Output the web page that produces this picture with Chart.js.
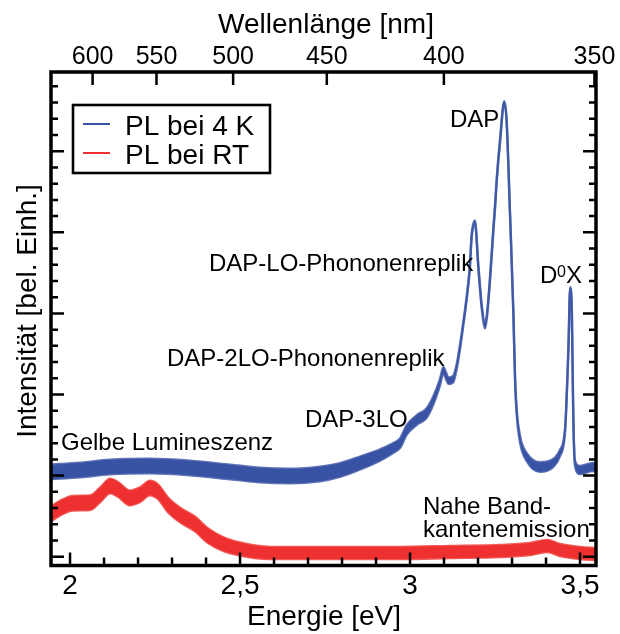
<!DOCTYPE html>
<html>
<head>
<meta charset="utf-8">
<script src="https://cdn.jsdelivr.net/npm/chart.js@4/dist/chart.umd.min.js"></script>
<style>
  html, body { margin: 0; padding: 0; background: #fff; }
  #wrap { width: 620px; height: 634px; }
</style>
</head>
<body>
<div id="wrap"><canvas id="c" width="620" height="634"></canvas></div>
<script>
// Photoluminescence spectra (arbitrary intensity units)
const seriesLabels = ['PL bei 4 K', 'PL bei RT'];

// 4 K spectrum: photon energy [eV], mean intensity, half-width of the noise band
const energy4K = [1.944, 2.029, 2.118, 2.235, 2.353, 2.471, 2.559, 2.647, 2.735, 2.794,
  2.853, 2.912, 2.956, 2.971, 2.990, 3.020, 3.049, 3.069, 3.088, 3.098,
  3.106, 3.113, 3.127, 3.137, 3.147, 3.157, 3.167, 3.176, 3.181, 3.191, 3.201,
  3.211, 3.221, 3.227, 3.235, 3.245, 3.250, 3.255, 3.265, 3.277, 3.284,
  3.294, 3.304, 3.309, 3.314, 3.324, 3.343, 3.382, 3.421, 3.441, 3.456,
  3.466, 3.471, 3.476, 3.480, 3.485, 3.500, 3.538, 3.547];
const intensity4K = [1.045, 1.069, 1.106, 1.118, 1.094, 1.045, 1.007, 0.995, 1.020, 1.069,
  1.155, 1.254, 1.353, 1.402, 1.562, 1.686, 1.772, 1.932, 2.150, 2.300,
  2.230, 2.170, 2.190, 2.339, 2.586, 2.882, 3.203, 3.573, 3.943, 4.127, 3.573,
  3.079, 2.845, 3.005, 3.412, 4.029, 4.312, 4.645, 5.138, 5.607, 5.385,
  4.238, 3.005, 2.179, 1.772, 1.439, 1.230, 1.106, 1.155, 1.279, 1.562,
  2.586, 3.314, 3.005, 1.772, 1.155, 1.069, 1.106, 1.094];
const noise4K = [0.09, 0.09, 0.09, 0.09, 0.09, 0.09, 0.09, 0.09, 0.09, 0.085,
  0.08, 0.07, 0.06, 0.06, 0.06, 0.06, 0.06, 0.05, 0.04, 0.04,
  0.04, 0.04, 0.04, 0.03, 0.03, 0.02, 0.02, 0.02, 0.02, 0.02, 0.02,
  0.02, 0.03, 0.02, 0.02, 0.02, 0.02, 0.02, 0.02, 0.01, 0.01,
  0.01, 0.01, 0.02, 0.03, 0.04, 0.05, 0.06, 0.05, 0.04, 0.02,
  0.01, 0.01, 0.01, 0.01, 0.03, 0.05, 0.05, 0.05];

// Room-temperature spectrum
const energyRT = [1.944, 1.971, 2.009, 2.059, 2.088, 2.118, 2.141, 2.176, 2.206, 2.235,
  2.259, 2.288, 2.324, 2.368, 2.403, 2.450, 2.500, 2.588, 2.706, 2.824,
  2.971, 3.118, 3.265, 3.353, 3.403, 3.441, 3.500, 3.547];
const intensityRT = [0.527, 0.600, 0.660, 0.665, 0.760, 0.872, 0.830, 0.725, 0.765, 0.847,
  0.800, 0.640, 0.514, 0.402, 0.268, 0.157, 0.095, 0.046, 0.046, 0.046,
  0.046, 0.058, 0.070, 0.095, 0.132, 0.083, 0.046, 0.033];
const noiseRT = [0.09, 0.09, 0.09, 0.09, 0.09, 0.09, 0.09, 0.09, 0.09, 0.09,
  0.09, 0.09, 0.09, 0.09, 0.09, 0.085, 0.08, 0.075, 0.075, 0.075,
  0.075, 0.075, 0.075, 0.075, 0.075, 0.075, 0.075, 0.075];

// Axis ticks
const energyTicks = [2, 2.5, 3, 3.5];
const energyTickLabels = ['2', '2,5', '3', '3,5'];
const wavelengthTicks = [600, 550, 500, 450, 400, 350];

const BLUE = '#3953a4';
const RED = '#ee3130';
const BLUE_EDGE = 'rgba(57, 83, 164, 0.8)';
const RED_EDGE = 'rgba(238, 49, 48, 0.8)';
const FONT = '"Liberation Sans", Arial, Helvetica, sans-serif';
const HC = 1239.84; // eV·nm

function band(energies, values, noise, sign) {
  return energies.map((e, i) => ({ x: e, y: values[i] + sign * noise[i] }));
}

function lineSet(label, data, fillColor, edgeColor, fill) {
  return {
    label, data, fill,
    borderColor: edgeColor, backgroundColor: fillColor,
    borderWidth: 2.4, pointRadius: 0,
    cubicInterpolationMode: 'monotone'
  };
}

// Frame with inward ticks, axis labels, titles, annotations and legend box
const framePlugin = {
  id: 'frame',
  afterDraw(chart) {
    const { ctx, chartArea: a, scales: { x, y } } = chart;
    ctx.save();
    ctx.strokeStyle = '#000';
    ctx.fillStyle = '#000';
    ctx.lineWidth = 2.5;
    ctx.beginPath();
    // left / right ticks every 0.2 units, long ones at whole units
    for (let i = 0; i * 0.2 <= y.max; i++) {
      const py = y.getPixelForValue(i * 0.2);
      if (py < a.top + 2) continue;
      const len = i % 5 === 0 ? 13 : 7;
      ctx.moveTo(a.left, py); ctx.lineTo(a.left + len, py);
      ctx.moveTo(a.right, py); ctx.lineTo(a.right - len, py);
    }
    // bottom ticks every 0.1 eV
    for (let i = 20; i <= 35; i++) {
      const px = x.getPixelForValue(i / 10);
      const len = i % 5 === 0 ? 13 : 8;
      ctx.moveTo(px, a.bottom); ctx.lineTo(px, a.bottom - len);
    }
    // top ticks at wavelengths
    wavelengthTicks.forEach(wl => {
      const px = x.getPixelForValue(HC / wl);
      ctx.moveTo(px, a.top); ctx.lineTo(px, a.top + 13);
    });
    ctx.stroke();

    ctx.lineWidth = 3.5;
    ctx.strokeRect(a.left, a.top, a.width, a.height);

    // tick labels
    ctx.textAlign = 'center';
    ctx.textBaseline = 'alphabetic';
    ctx.font = '28px ' + FONT;
    energyTicks.forEach((e, i) => {
      ctx.fillText(energyTickLabels[i], x.getPixelForValue(e), 594);
    });
    ctx.font = '25px ' + FONT;
    wavelengthTicks.forEach(wl => {
      ctx.fillText(String(wl), x.getPixelForValue(HC / wl), 64);
    });

    // axis titles
    ctx.font = '28px ' + FONT;
    ctx.fillText('Energie [eV]', 324, 625);
    ctx.fillText('Wellenlänge [nm]', 326, 33);
    ctx.save();
    ctx.translate(36, 311);
    ctx.rotate(-Math.PI / 2);
    ctx.fillText('Intensität [bel. Einh.]', 0, 0);
    ctx.restore();

    // peak annotations
    ctx.textAlign = 'left';
    ctx.font = '24px ' + FONT;
    ctx.fillText('DAP', 450, 127);
    ctx.fillText('DAP-LO-Phononenreplik', 209, 271);
    ctx.fillText('DAP-2LO-Phononenreplik', 167, 366);
    ctx.fillText('DAP-3LO', 305, 427);
    ctx.fillText('Gelbe Lumineszenz', 61, 450);
    ctx.fillText('Nahe Band-', 423, 514);
    ctx.fillText('kantenemission', 423, 537);
    ctx.fillText('D', 540, 283);
    ctx.fillText('X', 566, 283);
    ctx.font = '16px ' + FONT;
    ctx.fillText('0', 557, 277);

    // legend
    ctx.lineWidth = 2.6;
    ctx.strokeRect(73, 105, 197, 68);
    ctx.font = '28px ' + FONT;
    [BLUE, RED].forEach((col, i) => {
      const ly = 124 + i * 29;
      ctx.strokeStyle = col;
      ctx.lineWidth = 2;
      ctx.beginPath();
      ctx.moveTo(83, ly); ctx.lineTo(110, ly);
      ctx.stroke();
      ctx.fillText(seriesLabels[i], 125, 135 + i * 28.5);
    });
    ctx.restore();
  }
};

new Chart(document.getElementById('c'), {
  type: 'line',
  data: {
    datasets: [
      lineSet(seriesLabels[0], band(energy4K, intensity4K, noise4K, 1), BLUE, BLUE_EDGE, '+1'),
      lineSet(seriesLabels[0] + ' (unten)', band(energy4K, intensity4K, noise4K, -1), BLUE, BLUE_EDGE, false),
      lineSet(seriesLabels[1], band(energyRT, intensityRT, noiseRT, 1), RED, RED_EDGE, '+1'),
      lineSet(seriesLabels[1] + ' (unten)', band(energyRT, intensityRT, noiseRT, -1), RED, RED_EDGE, false)
    ]
  },
  options: {
    responsive: false,
    animation: false,
    layout: { padding: { left: 51, right: 24, top: 72, bottom: 68.5 } },
    scales: {
      x: { type: 'linear', min: 1.944, max: 3.547, display: false },
      y: { type: 'linear', min: -0.1085, max: 5.977, display: false }
    },
    plugins: {
      legend: { display: false },
      tooltip: { enabled: false }
    }
  },
  plugins: [framePlugin]
});
</script>
</body>
</html>
